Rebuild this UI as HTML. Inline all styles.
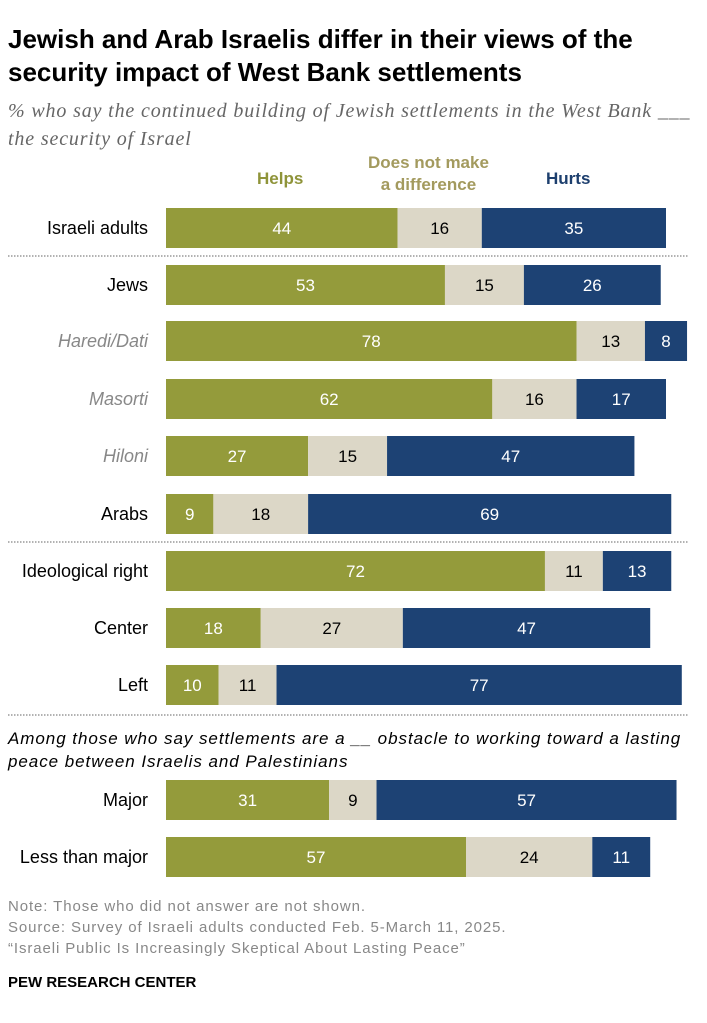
<!DOCTYPE html>
<html><head><meta charset="utf-8">
<style>
body{margin:0;background:#fff;font-family:"Liberation Sans",sans-serif;}
#wrap{position:relative;width:707px;height:1023px;overflow:hidden;}
.t{position:absolute;white-space:nowrap;}
</style></head><body>
<div id="wrap">
<div class="t" style="left:8px;top:23px;font-size:26px;font-weight:bold;line-height:33px;color:#000;">Jewish and Arab Israelis differ in their views of the<br>security impact of West Bank settlements</div>
<div class="t" style="left:8px;top:97px;font-size:20px;letter-spacing:0.85px;font-style:italic;font-family:'Liberation Serif',serif;line-height:28px;color:#666;">% who say the continued building of Jewish settlements in the West Bank ___<br>the security of Israel</div>
<div class="t" style="left:257px;top:169px;font-size:17px;font-weight:bold;color:#8f943a;">Helps</div>
<div class="t" style="left:368px;top:152px;font-size:17px;font-weight:bold;color:#a39a5e;text-align:center;line-height:22px;">Does not make<br>a difference</div>
<div class="t" style="left:546px;top:169px;font-size:17px;font-weight:bold;color:#1d3f6e;">Hurts</div>
<div class="t" style="left:8px;top:727px;font-size:17px;letter-spacing:0.95px;font-style:italic;line-height:23px;color:#000;">Among those who say settlements are a __ obstacle to working toward a lasting<br>peace between Israelis and Palestinians</div>
<div class="t" style="left:8px;top:896px;font-size:15px;letter-spacing:0.9px;line-height:21px;color:#888;">Note: Those who did not answer are not shown.<br>Source: Survey of Israeli adults conducted Feb. 5-March 11, 2025.<br>“Israeli Public Is Increasingly Skeptical About Lasting Peace”</div>
<div class="t" style="left:8px;top:974px;font-size:15px;font-weight:bold;color:#000;">PEW RESEARCH CENTER</div>
<svg id="svg" width="707" height="1023" style="position:absolute;left:0;top:0"></svg>
</div>
<script>
const categories=["Israeli adults","Jews","Haredi/Dati","Masorti","Hiloni","Arabs","Ideological right","Center","Left","Major","Less than major"];
const subgroup=[false,false,true,true,true,false,false,false,false,false,false];
const helps=[44,53,78,62,27,9,72,18,10,31,57];
const noDiff=[16,15,13,16,15,18,11,27,11,9,24];
const hurts=[35,26,8,17,47,69,13,47,77,57,11];
const rowY=[228,285,341,399,456,514,571,628,685,800,857];
const dividers=[256,542,715];
const svg=document.getElementById('svg');
const NS='http://www.w3.org/2000/svg';
const x0=166, scale=500/95, bh=40;
const xs=v=>v*scale;
function mk(tag,attrs){const e=document.createElementNS(NS,tag);for(const k in attrs)e.setAttribute(k,attrs[k]);svg.appendChild(e);return e;}
dividers.forEach(y=>{
 const l=mk('line',{x1:8,x2:689,y1:y,y2:y,stroke:'#666','stroke-width':1,'stroke-dasharray':'1.5,1.5'});
 
 
});
const series=[[helps,'#949b3b','#fff','helps'],[noDiff,'#dcd7c7','#000','no-difference'],[hurts,'#1d4274','#fff','hurts']];
categories.forEach((c,i)=>{
 const y=rowY[i];
 const lab=mk('text',{x:148,y:y+6,'text-anchor':'end','font-size':18,'font-family':'Liberation Sans, sans-serif',fill:subgroup[i]?'#888':'#000','font-style':subgroup[i]?'italic':'normal'});
 lab.textContent=c;
 
 
 let x=x0;
 series.forEach(s=>{
  const v=s[0][i], w=xs(v);
  const r=mk('rect',{x:x,y:y-bh/2,width:w,height:bh,fill:s[1]});
  
  
  const t=mk('text',{x:x+w/2,y:y+6,'text-anchor':'middle','font-size':17,'font-family':'Liberation Sans, sans-serif',fill:s[2]});
  t.textContent=v;
  
  
  x+=w;
 });
});
</script>
</body></html>
